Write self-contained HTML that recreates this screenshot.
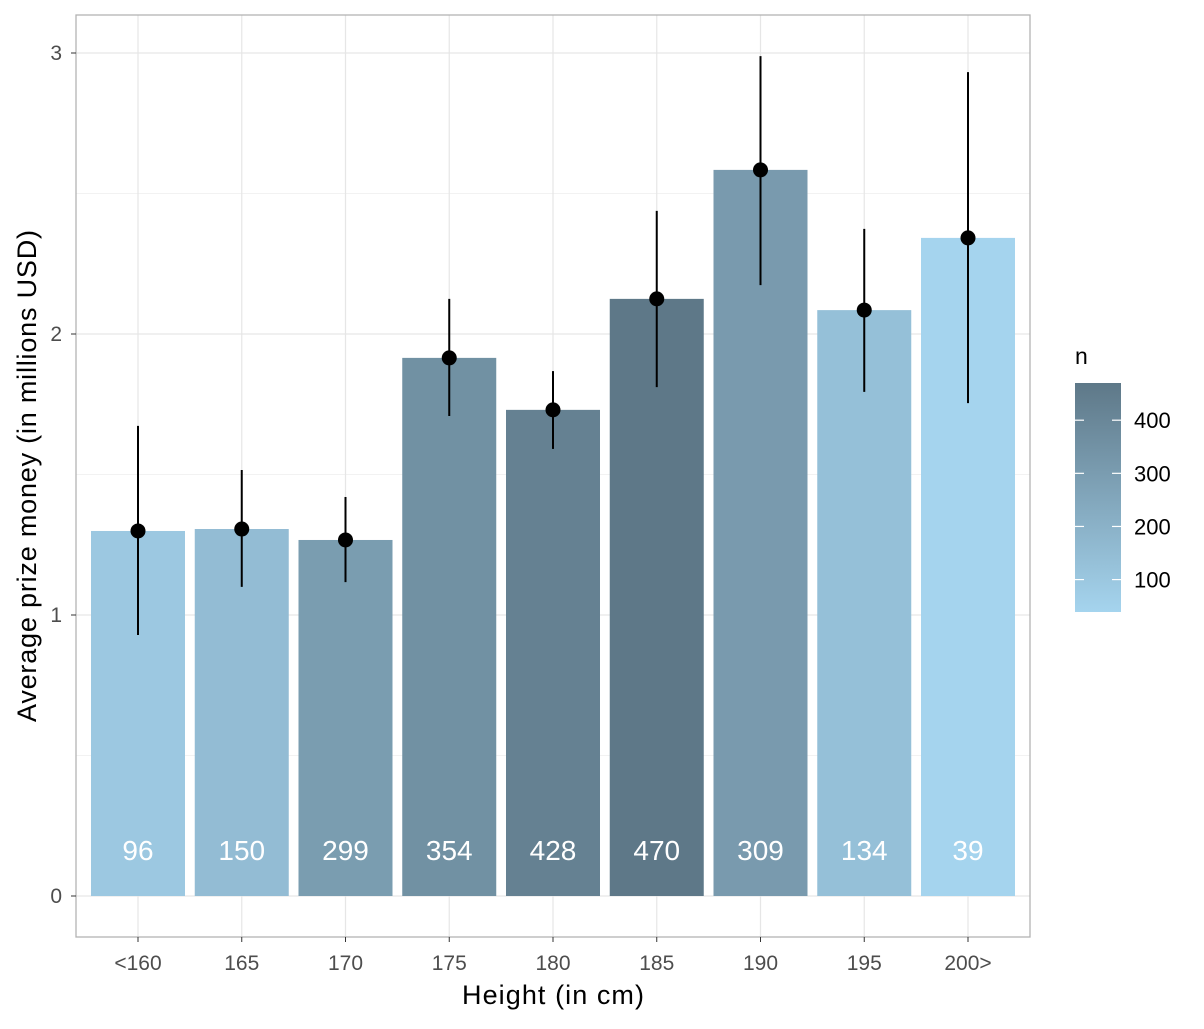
<!DOCTYPE html>
<html><head><meta charset="utf-8"><style>
body{margin:0;background:#fff;font-family:"Liberation Sans",sans-serif}
</style></head><body>
<svg id="chart" width="1204" height="1024" xmlns="http://www.w3.org/2000/svg" font-family="Liberation Sans, sans-serif">
<defs><linearGradient id="lg" x1="0" y1="1" x2="0" y2="0">
<stop offset="0" stop-color="#a5d4ee"/><stop offset="1" stop-color="#5e7888"/></linearGradient></defs>
<g id="grid"></g>
<g id="bars"></g>
<rect x="76" y="15" width="954" height="922" fill="none" stroke="#b3b3b3" stroke-width="1.3"/>
<g id="axes"></g>
<text x="553" y="1004" text-anchor="middle" font-size="27" textLength="182" fill="#000">Height (in cm)</text>
<text transform="translate(36,476) rotate(-90)" text-anchor="middle" font-size="27" textLength="492" fill="#000">Average prize money (in millions USD)</text>
<g>
<text x="1075" y="364" font-size="23">n</text>
<rect x="1075" y="383" width="46" height="229" fill="url(#lg)"/>
<g id="legend-ticks"></g>
</g>
</svg>
<script>
const categories=["<160","165","170","175","180","185","190","195","200>"];
const means=[1.299,1.306,1.267,1.915,1.730,2.125,2.584,2.085,2.342];
const upper=[1.673,1.516,1.42,2.125,1.868,2.438,2.989,2.374,2.932];
const lower=[0.929,1.100,1.117,1.708,1.591,1.811,2.174,1.794,1.754];
const counts=[96,150,299,354,428,470,309,134,39];
const yTicks=[0,1,2,3];
const legendTicks=[100,200,300,400];
const NS="http://www.w3.org/2000/svg";
const y=v=>896-v*281;
const x=i=>138+i*103.75;
const nMin=39,nMax=470;
const ly=n=>612-(n-nMin)/(nMax-nMin)*229;
function col(n){const t=(n-nMin)/(nMax-nMin);const a=[0xa5,0xd4,0xee],b=[0x5e,0x78,0x88];return `rgb(${a.map((c,k)=>Math.round(c+(b[k]-c)*t)).join(",")})`;}
function mk(tag,attrs,parent,text){const e=document.createElementNS(NS,tag);for(const k in attrs)e.setAttribute(k,attrs[k]);if(text!==undefined)e.textContent=text;parent.appendChild(e);return e;}
const grid=document.getElementById('grid'),bars=document.getElementById('bars'),axes=document.getElementById('axes'),lt=document.getElementById('legend-ticks');
for(let v=0;v<=3.01;v+=0.5){const l=mk('line',{x1:76,x2:1030,y1:y(v),y2:y(v),stroke:'#e6e6e6','stroke-width':Number.isInteger(v)?1.2:0.6},grid);

}
categories.forEach((c,i)=>{const l=mk('line',{x1:x(i),x2:x(i),y1:15,y2:937,stroke:'#e6e6e6','stroke-width':1.2},grid);

});
yTicks.forEach(v=>{const t=mk('text',{x:62,y:y(v)+7,'text-anchor':'end','font-size':21,fill:'#4d4d4d'},axes,String(v));


const tk=mk('line',{x1:71,x2:76,y1:y(v),y2:y(v),stroke:'#333'},axes);

});
categories.forEach((c,i)=>{
const r=mk('rect',{x:x(i)-47,y:y(means[i]),width:94,height:896-y(means[i]),fill:col(counts[i])},bars);


const e=mk('line',{x1:x(i),x2:x(i),y1:y(upper[i]),y2:y(lower[i]),stroke:'#000','stroke-width':2},bars);


const p=mk('circle',{cx:x(i),cy:y(means[i]),r:7.5,fill:'#000'},bars);


const t=mk('text',{x:x(i),y:860,'text-anchor':'middle','font-size':28,fill:'#fff'},bars,String(counts[i]));


const xt=mk('text',{x:x(i),y:970,'text-anchor':'middle','font-size':21,fill:'#4d4d4d'},axes,c);


const tk=mk('line',{x1:x(i),x2:x(i),y1:937,y2:942,stroke:'#333'},axes);

});
legendTicks.forEach(n=>{const t=mk('text',{x:1134,y:ly(n)+8,'font-size':22,fill:'#000'},lt,String(n));


const a=mk('line',{x1:1075,x2:1084,y1:ly(n),y2:ly(n),stroke:'#fff','stroke-width':1.2},lt);


const b=mk('line',{x1:1112,x2:1121,y1:ly(n),y2:ly(n),stroke:'#fff','stroke-width':1.2},lt);

});
</script>
</body></html>
